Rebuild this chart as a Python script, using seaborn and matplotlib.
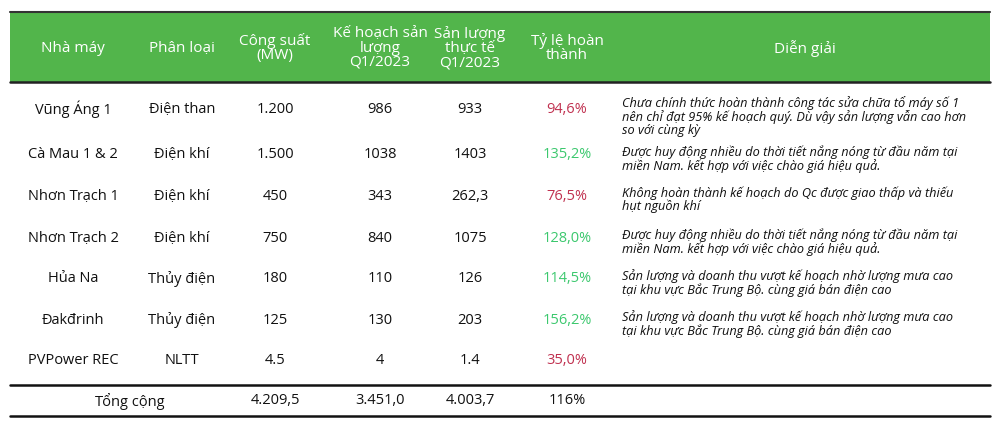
import matplotlib
matplotlib.use("Agg")
import matplotlib.pyplot as plt
import seaborn as sns

sns.set_style("white")
plt.rcParams["font.family"] = "Open Sans"

headers = ["Nhà máy", "Phân loại", "Công suất\n(MW)", "Kế hoạch sản\nlượng\nQ1/2023",
           "Sản lượng\nthực tế\nQ1/2023", "Tỷ lệ hoàn\nthành", "Diễn giải"]
plants = ["Vũng Áng 1", "Cà Mau 1 & 2", "Nhơn Trạch 1", "Nhơn Trạch 2", "Hủa Na", "Đakđrinh", "PVPower REC"]
types = ["Điện than", "Điện khí", "Điện khí", "Điện khí", "Thủy điện", "Thủy điện", "NLTT"]
capacity = ["1.200", "1.500", "450", "750", "180", "125", "4.5"]
plan = ["986", "1038", "343", "840", "110", "130", "4"]
actual = ["933", "1403", "262,3", "1075", "126", "203", "1.4"]
ratio = [94.6, 135.2, 76.5, 128.0, 114.5, 156.2, 35.0]
notes = [
    "Chưa chính thức hoàn thành công tác sửa chữa tổ máy số 1\nnên chỉ đạt 95% kế hoạch quý. Dù vậy sản lượng vẫn cao hơn\nso với cùng kỳ",
    "Được huy động nhiều do thời tiết nắng nóng từ đầu năm tại\nmiền Nam. kết hợp với việc chào giá hiệu quả.",
    "Không hoàn thành kế hoạch do Qc được giao thấp và thiếu\nhụt nguồn khí",
    "Được huy động nhiều do thời tiết nắng nóng từ đầu năm tại\nmiền Nam. kết hợp với việc chào giá hiệu quả.",
    "Sản lượng và doanh thu vượt kế hoạch nhờ lượng mưa cao\ntại khu vực Bắc Trung Bộ. cùng giá bán điện cao",
    "Sản lượng và doanh thu vượt kế hoạch nhờ lượng mưa cao\ntại khu vực Bắc Trung Bộ. cùng giá bán điện cao",
    "",
]
total = ["Tổng cộng", "4.209,5", "3.451,0", "4.003,7", "116%"]

fig = plt.figure(figsize=(9.97, 4.25), dpi=100)
ax = fig.add_axes([0, 0, 1, 1])
ax.set_xlim(0, 997); ax.set_ylim(425, 0); ax.axis("off")

green = "#52B54B"
ax.add_patch(plt.Rectangle((10, 12), 980, 70, color=green, lw=0))
ax.plot([10, 990], [12, 12], color="#333", lw=1.5)
ax.plot([10, 990], [82, 82], color="#222", lw=1.8)
ax.plot([10, 990], [385, 385], color="#111", lw=1.8)
ax.plot([10, 990], [416, 416], color="#111", lw=1.8)

xc = [73, 182, 275, 380, 470, 567, 805]
fs = 10.5
for x, h in zip(xc, headers):
    ax.text(x, 48, h, ha="center", va="center", color="white", fontsize=11, linespacing=0.95)

ys = [109, 155, 196, 238, 279, 320, 361]
for i, y in enumerate(ys):
    for x, v in zip(xc[:5], [plants[i], types[i], capacity[i], plan[i], actual[i]]):
        ax.text(x, y, v, ha="center", va="center", fontsize=fs, color="#111")
    col = "#C0304F" if ratio[i] < 100 else "#3CC86E"
    ax.text(xc[5], y, f"{ratio[i]:.1f}%".replace(".", ","), ha="center", va="center", fontsize=fs, color=col)
    if notes[i]:
        nl = notes[i].count("\n") + 1
        ax.text(622, y - 10 + (0 if nl == 2 else -3), notes[i], ha="left", va="top", fontsize=9.2,
                style="italic", color="#111", linespacing=1.0)

for x, v in zip([130, 275, 380, 470, 567], total):
    ax.text(x, 401, v, ha="center", va="center", fontsize=fs, color="#111")

fig.savefig("out.png", dpi=100)
